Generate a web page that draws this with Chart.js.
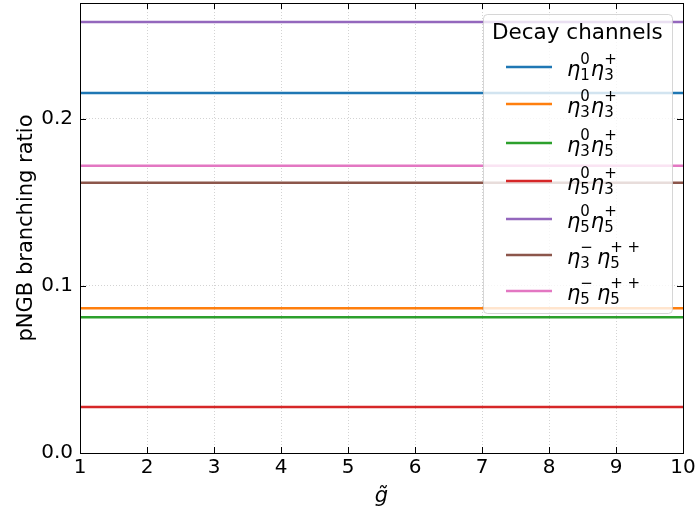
<!DOCTYPE html>
<html>
<head>
<meta charset="utf-8">
<script src="https://cdn.jsdelivr.net/npm/chart.js@4.4.1/dist/chart.umd.min.js"></script>
<style>
  html, body { margin: 0; padding: 0; background: #fff; }
  #wrap { width: 699px; height: 512px; }
</style>
</head>
<body>
<div id="wrap"><canvas id="brChart" width="699" height="512"></canvas></div>
<script>
// coupling values on the x axis
const gTilde = [1, 2, 3, 4, 5, 6, 7, 8, 9, 10];

// branching ratios per decay channel (flat in g~)
const eta1eta3 = [0.2155, 0.2155, 0.2155, 0.2155, 0.2155, 0.2155, 0.2155, 0.2155, 0.2155, 0.2155];
const eta3eta3 = [0.0866, 0.0866, 0.0866, 0.0866, 0.0866, 0.0866, 0.0866, 0.0866, 0.0866, 0.0866];
const eta3eta5 = [0.0812, 0.0812, 0.0812, 0.0812, 0.0812, 0.0812, 0.0812, 0.0812, 0.0812, 0.0812];
const eta5eta3 = [0.0275, 0.0275, 0.0275, 0.0275, 0.0275, 0.0275, 0.0275, 0.0275, 0.0275, 0.0275];
const eta5eta5 = [0.2579, 0.2579, 0.2579, 0.2579, 0.2579, 0.2579, 0.2579, 0.2579, 0.2579, 0.2579];
const eta3mEta5pp = [0.1618, 0.1618, 0.1618, 0.1618, 0.1618, 0.1618, 0.1618, 0.1618, 0.1618, 0.1618];
const eta5mEta5pp = [0.1719, 0.1719, 0.1719, 0.1719, 0.1719, 0.1719, 0.1719, 0.1719, 0.1719, 0.1719];

const xTicks = [1, 2, 3, 4, 5, 6, 7, 8, 9, 10];
const yTicks = [0.0, 0.1, 0.2];

// legend labels as eta factors: [subscript, superscript]
const channelLabels = [
  [["1", "0"], ["3", "+"]],
  [["3", "0"], ["3", "+"]],
  [["3", "0"], ["5", "+"]],
  [["5", "0"], ["3", "+"]],
  [["5", "0"], ["5", "+"]],
  [["3", "\u2212"], ["5", "+ +"]],
  [["5", "\u2212"], ["5", "+ +"]]
];

const colors = ["#1f77b4", "#ff7f0e", "#2ca02c", "#d62728", "#9467bd", "#8c564b", "#e377c2"];
const series = [eta1eta3, eta3eta3, eta3eta5, eta5eta3, eta5eta5, eta3mEta5pp, eta5mEta5pp];

const FONT = "'DejaVu Sans', sans-serif";

// inward ticks on all four sides, plus frame
const frameTicks = {
  id: "frameTicks",
  afterDraw(chart) {
    const { ctx, chartArea: a, scales } = chart;
    ctx.save();
    ctx.strokeStyle = "#000";
    ctx.lineWidth = 1;
    ctx.beginPath();
    xTicks.forEach(v => {
      const x = Math.round(scales.x.getPixelForValue(v)) + 0.5;
      ctx.moveTo(x, a.bottom); ctx.lineTo(x, a.bottom - 6);
      ctx.moveTo(x, a.top); ctx.lineTo(x, a.top + 6);
    });
    yTicks.forEach(v => {
      const y = Math.round(scales.y.getPixelForValue(v)) + 0.5;
      ctx.moveTo(a.left, y); ctx.lineTo(a.left + 6, y);
      ctx.moveTo(a.right, y); ctx.lineTo(a.right - 6, y);
    });
    ctx.stroke();
    ctx.strokeRect(Math.round(a.left) + 0.5, Math.round(a.top) + 0.5,
                   Math.round(a.right - a.left), Math.round(a.bottom - a.top));
    ctx.restore();
  }
};

function roundRect(ctx, x, y, w, h, r) {
  ctx.beginPath();
  ctx.moveTo(x + r, y);
  ctx.lineTo(x + w - r, y);
  ctx.quadraticCurveTo(x + w, y, x + w, y + r);
  ctx.lineTo(x + w, y + h - r);
  ctx.quadraticCurveTo(x + w, y + h, x + w - r, y + h);
  ctx.lineTo(x + r, y + h);
  ctx.quadraticCurveTo(x, y + h, x, y + h - r);
  ctx.lineTo(x, y + r);
  ctx.quadraticCurveTo(x, y, x + r, y);
  ctx.closePath();
}

// legend with math-style labels
const mathLegend = {
  id: "mathLegend",
  afterDatasetsDraw(chart) {
    const { ctx } = chart;
    const bx = 483.5, by = 14.5, bw = 189, bh = 299;
    ctx.save();
    roundRect(ctx, bx, by, bw, bh, 4);
    ctx.fillStyle = "rgba(255,255,255,0.8)";
    ctx.fill();
    ctx.strokeStyle = "rgba(204,204,204,0.8)";
    ctx.lineWidth = 1;
    ctx.stroke();

    ctx.fillStyle = "#000";
    ctx.textBaseline = "alphabetic";
    ctx.font = "21.5px " + FONT;
    ctx.fillText("Decay channels", 492, 39);

    const rowY = [67, 104, 143, 181, 219, 255, 291];
    channelLabels.forEach((parts, i) => {
      const y = rowY[i];
      ctx.strokeStyle = chart.data.datasets[i].borderColor;
      ctx.lineWidth = 2.5;
      ctx.beginPath();
      ctx.moveTo(506, y); ctx.lineTo(552, y);
      ctx.stroke();

      let x = 567;
      const base = y + 9;
      parts.forEach(([sub, sup], k) => {
        ctx.font = "italic 21px " + FONT;
        ctx.fillText("\u03b7", x, base);
        x += ctx.measureText("\u03b7").width;
        ctx.font = "15px " + FONT;
        ctx.fillText(sub, x, base + 4);
        const wSub = ctx.measureText(sub).width;
        ctx.fillText(sup, x, base - 12);
        const wSup = ctx.measureText(sup).width;
        x += Math.max(wSub, wSup) + (k === 0 && sup === "\u2212" ? 4 : 1);
      });
    });
    ctx.restore();
  }
};

new Chart(document.getElementById("brChart").getContext("2d"), {
  type: "line",
  data: {
    labels: gTilde,
    datasets: series.map((vals, i) => ({
      label: "channel " + (i + 1),
      data: gTilde.map((g, j) => ({ x: g, y: vals[j] })),
      borderColor: colors[i],
      backgroundColor: colors[i],
      borderWidth: 2.5,
      pointRadius: 0,
      fill: false,
      tension: 0
    }))
  },
  options: {
    responsive: false,
    animation: false,
    layout: { padding: { top: 3, right: 16, left: 0, bottom: 0 } },
    plugins: {
      legend: { display: false },
      tooltip: { enabled: false }
    },
    scales: {
      x: {
        type: "linear",
        min: 1,
        max: 10,
        afterBuildTicks: s => { s.ticks = xTicks.map(v => ({ value: v })); },
        afterFit: s => { s.height = 59; s.paddingLeft = 0; s.paddingRight = 0; },
        grid: { color: "#c8c8c8", drawTicks: false, lineWidth: 0.8 },
        border: { display: false, dash: [1, 2] },
        ticks: {
          color: "#000",
          font: { family: FONT, size: 20 },
          padding: 3,
          maxRotation: 0,
          autoSkip: false
        },
        title: {
          display: true,
          text: "g\u0303",
          color: "#000",
          font: { family: FONT, size: 21, style: "italic" },
          padding: { top: 0, bottom: 3 }
        }
      },
      y: {
        min: 0,
        max: 0.2693,
        afterBuildTicks: s => { s.ticks = yTicks.map(v => ({ value: v })); },
        afterFit: s => { s.width = 80; s.paddingTop = 0; s.paddingBottom = 0; },
        grid: { color: "#c8c8c8", drawTicks: false, lineWidth: 0.8 },
        border: { display: false, dash: [1, 2] },
        ticks: {
          color: "#000",
          font: { family: FONT, size: 20 },
          padding: 7,
          callback: v => v.toFixed(1)
        },
        title: {
          display: true,
          text: "pNGB branching ratio",
          color: "#000",
          font: { family: FONT, size: 21 },
          padding: { top: 14, bottom: 0 }
        }
      }
    }
  },
  plugins: [mathLegend, frameTicks]
});
</script>
</body>
</html>
